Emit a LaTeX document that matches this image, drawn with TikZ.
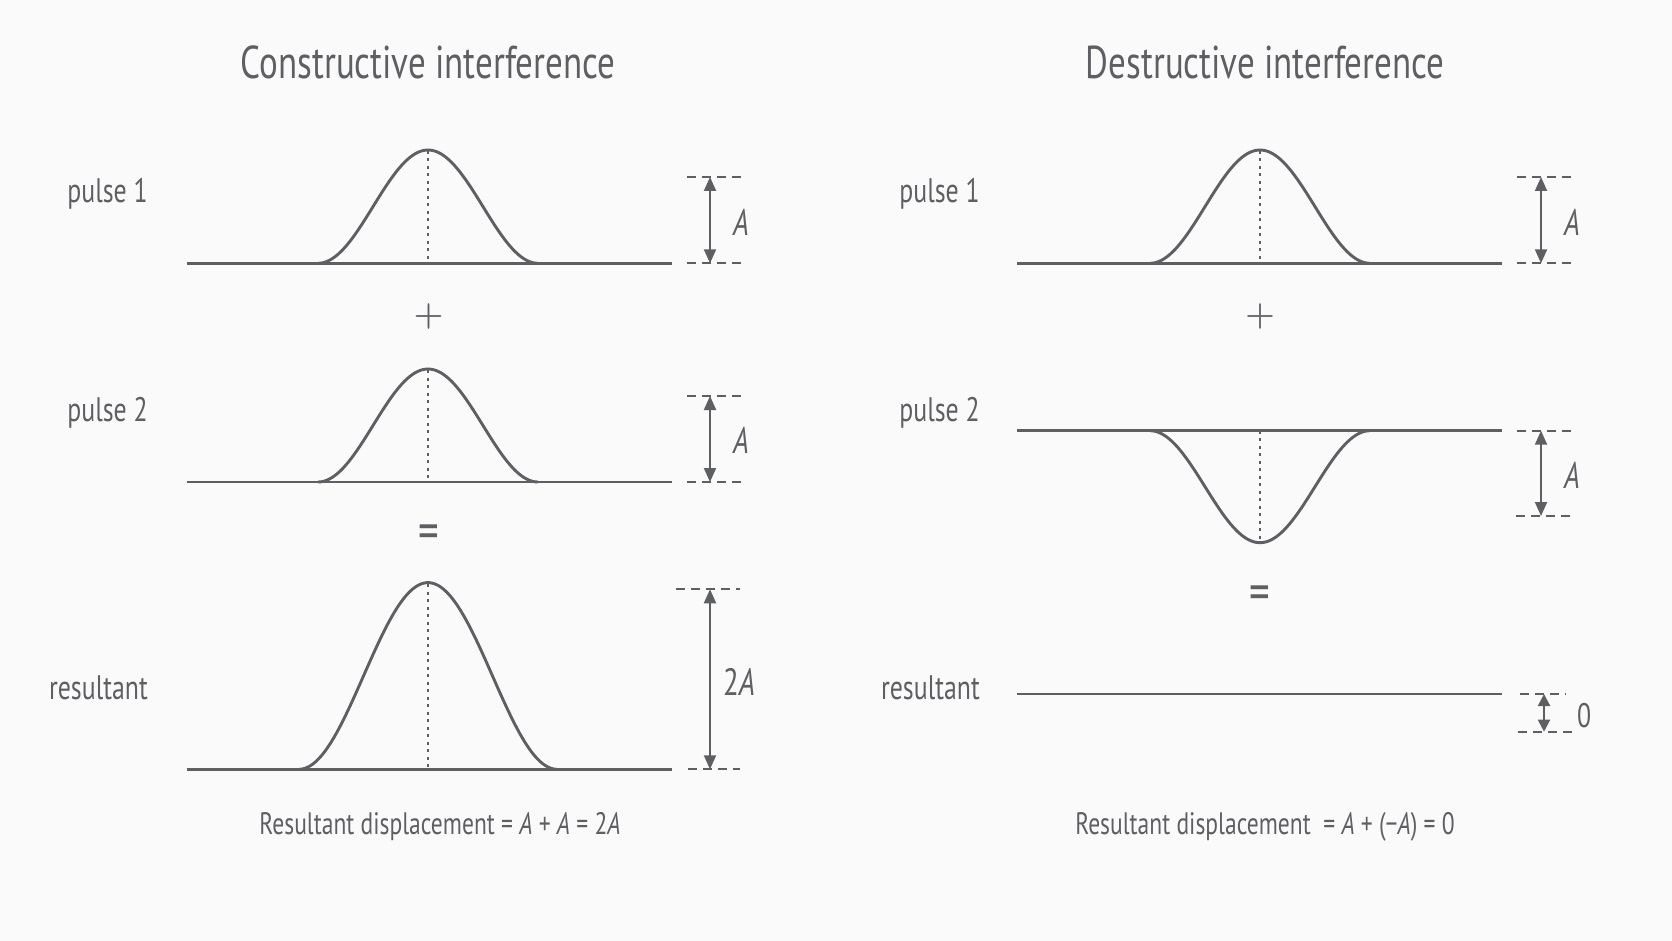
\documentclass[tikz,border=0pt]{standalone}
\usepackage{fontspec}
\setmainfont{PT Sans}[FakeStretch=0.76]
\newfontfamily\symfont{Latin Modern Roman}[FakeBold=1.2]
\usetikzlibrary{arrows.meta}
\definecolor{ink}{HTML}{5E5F63}
\definecolor{bg}{HTML}{FAFAFA}
\begin{document}
\begin{tikzpicture}[x=1pt,y=-1pt,
  wave/.style={draw=ink,line width=2.9pt,line join=round,line cap=butt},
  axisdot/.style={draw=ink,line width=1.4pt,dash pattern=on 3pt off 4.5pt},
  guide/.style={draw=ink,line width=2pt,dash pattern=on 9pt off 6pt},
  dimarrow/.style={draw=ink,line width=2pt,{Triangle[length=14pt,width=12pt]}-{Triangle[length=14pt,width=12pt]}},
  lbl/.style={text=ink,font=\fontsize{34}{38}\selectfont,anchor=east,inner sep=0pt},
  ttl/.style={text=ink,font=\fontsize{46}{50}\selectfont,inner sep=0pt},
  plussym/.style={text=ink,font=\symfont\fontsize{40}{44}\selectfont,inner sep=0pt},
  eqsym/.style={text=ink,font=\fontsize{54}{60}\selectfont,inner sep=0pt},
  amp/.style={text=ink,font=\fontsize{37}{40}\selectfont\itshape,anchor=west,inner sep=0pt},
  eqn/.style={text=ink,font=\fontsize{31}{34}\selectfont,inner sep=0pt}
]
\fill[bg] (0,0) rectangle (1672,941);
\useasboundingbox (0,0) rectangle (1672,941);

% ---------------- titles
\node[ttl] (t1) at (428,62) {Constructive interference};
\node[ttl] (t2) at (1265,62) {Destructive interference};

% ================= LEFT PANEL
\node[lbl] (lp1) at (148,194) {pulse 1};
\node[lbl] (lp2) at (148,413) {pulse 2};
\node[lbl] (lr) at (148,688) {resultant};

% pulse 1
\draw[wave] (186.6,263.3) -- (671.6,263.3);
\draw[wave] plot[domain=-110:110,samples=80] ({428+\x},{263.3-56.65*(1+cos(1.63636*\x))});
\draw[axisdot] (428,151) -- (428,263.3);
\coordinate (d1t) at (710,177);
\coordinate (d1b) at (710,263.3);
\draw[guide] (686.6,177) -- (743.6,177);
\draw[guide] (686.6,263.3) -- (743.6,263.3);
\draw[dimarrow] (d1t) -- (d1b);
\node[amp] (a1) at (733,222) {A};

% plus
\node[plussym] (plus1) at (428.5,316) {+};

% pulse 2
\draw[wave] (186.6,482) -- (671.6,482);
\draw[wave] plot[domain=-110:110,samples=80] ({428+\x},{482-56.5*(1+cos(1.63636*\x))});
\draw[axisdot] (428,370) -- (428,482);
\coordinate (d2t) at (710,396);
\coordinate (d2b) at (710,482);
\draw[guide] (686.6,396) -- (743.6,396);
\draw[guide] (686.6,482) -- (743.6,482);
\draw[dimarrow] (d2t) -- (d2b);
\node[amp] (a2) at (733,440) {A};

% equals
\node[eqsym] (eq1) at (428.5,537) {=};

% resultant
\draw[wave] (186.6,769.3) -- (671.6,769.3);
\draw[wave] plot[domain=-129:129,samples=90] ({428+\x},{769.3-93.35*(1+cos(1.39535*\x))});
\draw[axisdot] (428,584) -- (428,769.3);
\coordinate (d3t) at (710,589.3);
\coordinate (d3b) at (710,769.3);
\draw[guide] (676,589.3) -- (740,589.3);
\draw[guide] (687.6,769.3) -- (740,769.3);
\draw[dimarrow] (d3t) -- (d3b);
\node[amp,font=\fontsize{38}{40}\selectfont] (a3) at (723,682) {2\textit{A}};

\node[eqn] (f1) at (440,827) {Resultant displacement = \textit{A} + \textit{A} = 2\textit{A}};

% ================= RIGHT PANEL
\node[lbl] (rp1) at (980,194) {pulse 1};
\node[lbl] (rp2) at (980,413) {pulse 2};
\node[lbl] (rr) at (980,688) {resultant};

% pulse 1
\draw[wave] (1017,263.3) -- (1502,263.3);
\draw[wave] plot[domain=-110:110,samples=80] ({1260+\x},{263.3-56.65*(1+cos(1.63636*\x))});
\draw[axisdot] (1260,151) -- (1260,263.3);
\coordinate (e1t) at (1541,177);
\coordinate (e1b) at (1541,263.3);
\draw[guide] (1517,177) -- (1574,177);
\draw[guide] (1517,263.3) -- (1574,263.3);
\draw[dimarrow] (e1t) -- (e1b);
\node[amp] (b1) at (1564,222) {A};

% plus
\node[plussym] (plus2) at (1260,316) {+};

% pulse 2 (inverted)
\draw[wave] (1017,430.7) -- (1502,430.7);
\draw[wave] plot[domain=-110:110,samples=80] ({1260+\x},{430.7+56*(1+cos(1.63636*\x))});
\draw[axisdot] (1260,430.7) -- (1260,541);
\coordinate (e2t) at (1541,430.7);
\coordinate (e2b) at (1541,516);
\draw[guide] (1517,430.7) -- (1574,430.7);
\draw[guide] (1516,516) -- (1573,516);
\draw[dimarrow] (e2t) -- (e2b);
\node[amp] (b2) at (1564,475) {A};

% equals
\node[eqsym] (eq2) at (1260,598) {=};

% resultant (flat)
\draw[wave] (1017,694) -- (1502,694);
\coordinate (e3t) at (1544,694);
\coordinate (e3b) at (1544,731.7);
\draw[guide] (1520,694) -- (1566,694);
\draw[guide] (1518,731.7) -- (1576,731.7);
\draw[dimarrow,{Triangle[length=12pt,width=12pt]}-{Triangle[length=12pt,width=12pt]}] (e3t) -- (e3b);
\node[amp,font=\fontsize{34}{38}\selectfont] (b3) at (1577,716) {0};

\node[eqn] (f2) at (1265,827) {Resultant displacement \ = \textit{A} + (−\textit{A}) = 0};
\end{tikzpicture}
\end{document}
